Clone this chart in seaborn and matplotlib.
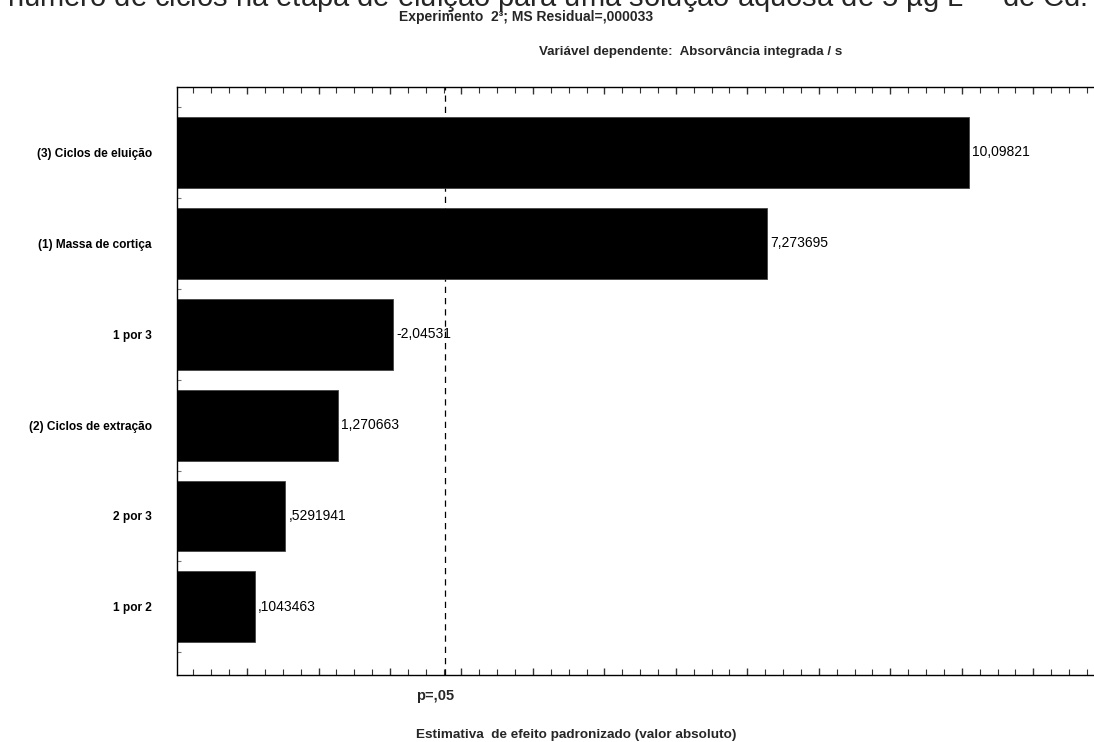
import numpy as np
import pandas as pd
import matplotlib
matplotlib.use("Agg")
import matplotlib.pyplot as plt
from matplotlib.ticker import MultipleLocator, FixedLocator
import seaborn as sns

# Pareto chart of standardized effects (2^3 factorial design)
effects = ["(3) Ciclos de eluição", "(1) Massa de cortiça", "1 por 3",
           "(2) Ciclos de extração", "2 por 3", "1 por 2"]
estimates = [10.09821, 7.273695, -2.04531, 1.270663, 0.5291941, 0.1043463]
p_critical = 2.776  # t(0.975; 4 df)

caption = "número de ciclos na etapa de eluição para uma solução aquosa de 5 µg L$^{-1}$ de Cd."
subtitle = "Experimento  2³; MS Residual=,000033"
dep_var = "Variável dependente:  Absorvância integrada / s"
xlabel = "Estimativa  de efeito padronizado (valor absoluto)"
p_label = "p=,05"

X_MIN, X_MAX = -0.98, 11.85


def fmt(v):
    s = f"{v:.7g}"
    neg = s.startswith("-")
    s = s.lstrip("-")
    if s.startswith("0."):
        s = s[1:]
    s = s.replace(".", ",")
    return ("-" if neg else "") + s


df = pd.DataFrame({"effect": effects, "estimate": estimates})
df["abs_estimate"] = df["estimate"].abs()

sns.set_theme(style="white")
regular = ["Liberation Sans", "DejaVu Sans"]
plt.rcParams["font.family"] = regular

fig = plt.figure(figsize=(10.94, 7.42), dpi=100)
ax = fig.add_axes([177 / 1094, 1 - 675 / 742, 1 - 177 / 1094, (675 - 87) / 742])

sns.barplot(data=df, x="abs_estimate", y="effect", orient="h", color="black",
            saturation=1, width=0.78, edgecolor="#444444", linewidth=0.6, ax=ax)

# bars grow from the left edge of the axis, as in a classic Pareto plot
for patch in ax.patches:
    end = patch.get_x() + patch.get_width()
    patch.set_x(X_MIN)
    patch.set_width(end - X_MIN)

ax.set_xlim(X_MIN, X_MAX)
ax.set_ylim(5.75, -0.72)

# critical value line
ax.axvline(p_critical, color="black", lw=0.9, ls=(0, (5, 4)), zorder=0.5)

# value labels
for i, v in enumerate(df["estimate"]):
    ax.text(abs(v) + 0.05, i, fmt(v), va="center", ha="left",
            fontsize=10, family=regular, color="black")

# axes styling
for side in ["left", "bottom", "top"]:
    ax.spines[side].set_visible(True)
    ax.spines[side].set_color("black")
    ax.spines[side].set_linewidth(1.0)
ax.spines["right"].set_visible(False)

ax.xaxis.set_major_locator(MultipleLocator(1))
ax.xaxis.set_minor_locator(MultipleLocator(0.25))
ax.tick_params(axis="x", which="both", direction="in", top=True, bottom=True,
               labelbottom=False, labeltop=False, color="#333333")
ax.tick_params(axis="x", which="major", length=5, width=1)
ax.tick_params(axis="x", which="minor", length=4, width=0.8)

ax.yaxis.set_minor_locator(FixedLocator(np.arange(-0.5, 6.0, 1.0)))
ax.tick_params(axis="y", which="major", length=0, pad=18)
ax.tick_params(axis="y", which="minor", direction="in", length=3, width=0.8,
               color="#777777", left=True)
for lab in ax.get_yticklabels():
    lab.set_fontfamily(regular)
    lab.set_fontweight("bold")
    lab.set_fontsize(8.6)
    lab.set_color("black")
ax.set_ylabel("")
ax.set_xlabel("")

# p-value label under the critical line
fig.text((247 + 71.5 * p_critical - 10) / 1094, 1 - 696 / 742, p_label,
         ha="center", va="center", fontsize=10.5, fontweight="bold", family=regular)

# header and axis texts
fig.text(0.5, 1 - 7 / 742, caption, ha="center", va="baseline",
         fontsize=21, family=regular)
fig.text(526 / 1094, 1 - 17 / 742, subtitle, ha="center", va="center",
         fontsize=10, fontweight="bold", family=regular)
fig.text(691 / 1094, 1 - 52 / 742, dep_var, ha="center", va="center",
         fontsize=9.6, fontweight="bold", family=regular)
fig.text(576 / 1094, 1 - 735 / 742, xlabel, ha="center", va="center",
         fontsize=9.7, fontweight="bold", family=regular)

fig.savefig("out.png", dpi=100, facecolor="white")
